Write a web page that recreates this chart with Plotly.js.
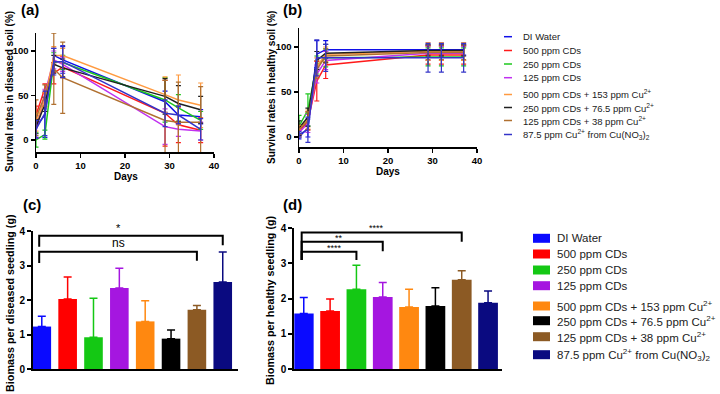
<!DOCTYPE html>
<html>
<head>
<meta charset="utf-8">
<script src="https://cdn.plot.ly/plotly-3.0.1.min.js"></script>
<style>
  html, body { margin: 0; padding: 0; background: #fff; }
  #chart { width: 720px; height: 394px; }
</style>
</head>
<body>
<div id="chart"></div>
<script>
// --- data ---
const treatments = [
    'DI Water',
    '500 ppm CDs',
    '250 ppm CDs',
    '125 ppm CDs',
    '500 ppm CDs + 153 ppm Cu<sup>2+</sup>',
    '250 ppm CDs + 76.5 ppm Cu<sup>2+</sup>',
    '125 ppm CDs + 38 ppm Cu<sup>2+</sup>',
    '87.5 ppm Cu<sup>2+</sup> from Cu(NO<sub>3</sub>)<sub>2</sub>'
];
const lineColors = ['#1010e8', '#ff1a1a', '#1ec81e', '#c030f0', '#ff9a40', '#202020', '#b07030', '#3434c8'];
const barColors = ['#0a0aff', '#ff0000', '#14c814', '#a516e0', '#ff8810', '#000000', '#8c5a24', '#0a0a80'];

const days = [0, 2, 4, 6, 29, 32, 37];

// (a) survival in diseased soil (%), mean and SD per treatment
const diseasedMean = [
    [15, 28, 95, 90, 43, 28, 26],
    [28, 58, 75, 82, 30, 17, 11],
    [0, 6, 88, 87, 45, 36, 22],
    [10, 52, 90, 85, 15, 12, 10],
    [20, 45, 95, 95, 51, 45, 39],
    [15, 40, 85, 81, 49, 41, 34],
    [25, 50, 80, 70, 22, 20, 20],
    [12, 30, 88, 88, 30, 28, 12]
];
const diseasedSd = [
    [12, 25, 8, 15, 12, 10, 8],
    [10, 5, 12, 12, 37, 20, 14],
    [8, 5, 10, 8, 25, 15, 10],
    [8, 5, 10, 8, 20, 8, 10],
    [10, 8, 10, 8, 20, 28, 25],
    [8, 8, 10, 10, 20, 20, 15],
    [20, 12, 40, 40, 45, 45, 40],
    [10, 25, 15, 18, 15, 10, 12]
];

// (b) survival in healthy soil (%)
const healthyMean = [
    [0, 10, 92, 97, 97, 97, 97],
    [5, 18, 62, 80, 91, 91, 91],
    [12, 30, 80, 88, 89, 89, 89],
    [5, 15, 70, 85, 93, 93, 93],
    [8, 20, 78, 92, 95, 95, 95],
    [10, 22, 85, 93, 96, 96, 96],
    [8, 18, 75, 90, 94, 94, 94],
    [3, 8, 88, 88, 88, 88, 88]
];
const healthySd = [
    [2, 10, 15, 10, 6, 6, 6],
    [5, 10, 22, 15, 10, 10, 10],
    [12, 18, 10, 10, 10, 10, 10],
    [5, 10, 10, 10, 8, 8, 8],
    [5, 10, 10, 8, 10, 10, 10],
    [8, 10, 10, 10, 6, 6, 6],
    [5, 10, 10, 8, 8, 8, 8],
    [3, 14, 20, 15, 16, 16, 16]
];

// (c) biomass per diseased seedling (g)
const biomassDiseased = [1.23, 2.03, 0.92, 2.35, 1.38, 0.88, 1.72, 2.52];
const biomassDiseasedSd = [0.30, 0.64, 1.13, 0.57, 0.60, 0.25, 0.12, 0.87];

// (d) biomass per healthy seedling (g)
const biomassHealthy = [1.58, 1.65, 2.27, 2.05, 1.76, 1.79, 2.54, 1.88];
const biomassHealthySd = [0.45, 0.34, 0.68, 0.41, 0.51, 0.52, 0.25, 0.34];

// significance brackets: [from, to, label]
const sigDiseased = [[0, 7, '*'], [0, 6, 'ns']];
const sigHealthy = [[0, 6, '****'], [0, 3, '**'], [0, 2, '****']];

const FONT = 'Arial, "Liberation Sans", sans-serif';
const W = 720, H = 394;
const px = x => x / W;
const py = y => 1 - y / H;

const traces = [];

// line charts (a) and (b)
treatments.forEach((name, i) => {
    traces.push({
        x: days, y: diseasedMean[i], xaxis: 'x', yaxis: 'y',
        type: 'scatter', mode: 'lines', name: name, showlegend: false,
        line: { color: lineColors[i], width: 1.5 },
        error_y: { type: 'data', array: diseasedSd[i], color: lineColors[i], thickness: 1.2, width: 2.5 }
    });
    traces.push({
        x: days, y: healthyMean[i], xaxis: 'x2', yaxis: 'y2',
        type: 'scatter', mode: 'lines', name: name, showlegend: false,
        line: { color: lineColors[i], width: 1.5 },
        error_y: { type: 'data', array: healthySd[i], color: lineColors[i], thickness: 1.2, width: 2.5 }
    });
});

// bar charts (c) and (d), one trace per treatment
treatments.forEach((name, i) => {
    traces.push({
        x: [i], y: [biomassDiseased[i]], xaxis: 'x3', yaxis: 'y3',
        type: 'bar', name: name, showlegend: false, width: 0.72,
        marker: { color: barColors[i] },
        error_y: { type: 'data', symmetric: false, array: [biomassDiseasedSd[i]], arrayminus: [0],
                   color: barColors[i], thickness: 1.5, width: 4 }
    });
    traces.push({
        x: [i], y: [biomassHealthy[i]], xaxis: 'x4', yaxis: 'y4',
        type: 'bar', name: name, showlegend: false, width: 0.75,
        marker: { color: barColors[i] },
        error_y: { type: 'data', symmetric: false, array: [biomassHealthySd[i]], arrayminus: [0],
                   color: barColors[i], thickness: 1.5, width: 4 }
    });
});

const axisBase = {
    showline: true, linecolor: '#000', linewidth: 1.5,
    ticks: 'outside', ticklen: 4, tickwidth: 1.5, tickcolor: '#000',
    showgrid: false, zeroline: false, fixedrange: true,
    tickfont: { family: FONT, size: 9.5, color: '#000', weight: 'bold' }
};
const barX = { ...axisBase, linewidth: 2, ticks: '', showticklabels: false };
const barY = { ...axisBase, linewidth: 2, tickwidth: 2, range: [0, 4], dtick: 1,
               tickfont: { family: FONT, size: 10, color: '#000', weight: 'bold' } };

const annotations = [];
const shapes = [];

function label(text, x, y, size, bold, angle, anchor) {
    annotations.push({
        text: text, xref: 'paper', yref: 'paper', x: px(x), y: py(y),
        xanchor: anchor || 'center', yanchor: 'middle', showarrow: false, textangle: angle || 0,
        font: { family: FONT, size: size, color: '#000', weight: bold ? 'bold' : 'normal' }
    });
}

// panel letters and axis titles
label('(a)', 30, 10, 15, true);
label('(b)', 292, 10, 15, true);
label('(c)', 32, 204, 15, true);
label('(d)', 292, 204, 15, true);
label('Survival rates in diseased soil (%)', 9, 92, 10, true, -90);
label('Survival rates in healthy soil (%)', 271, 88, 10, true, -90);
label('Days', 125.5, 176, 10, true);
label('Days', 388, 171, 10, true);
label('Biomass per diseased seedling (g)', 10, 303, 10.8, true, -90);
label('Biomass per healthy seedling (g)', 270, 300, 10.8, true, -90);

// legends drawn by hand so the rows keep the tight spacing of the original
const lineRows = [36.7, 50.5, 64, 77.7, 94.5, 107.5, 120.5, 134.5];
const barRows = [238.3, 254, 270, 285.7, 306, 320.7, 336.7, 354.7];
treatments.forEach((name, i) => {
    shapes.push({ type: 'line', xref: 'paper', yref: 'paper',
        x0: px(504), x1: px(512), y0: py(lineRows[i]), y1: py(lineRows[i]),
        line: { color: lineColors[i], width: 1.5 } });
    annotations.push({ text: name, xref: 'paper', yref: 'paper', x: px(521), y: py(lineRows[i]),
        xanchor: 'left', yanchor: 'middle', showarrow: false,
        font: { family: FONT, size: 9.5, color: '#222' } });
    shapes.push({ type: 'rect', xref: 'paper', yref: 'paper',
        x0: px(533), x1: px(550), y0: py(barRows[i] + 4.5), y1: py(barRows[i] - 4.5),
        fillcolor: barColors[i], line: { width: 0 } });
    annotations.push({ text: name, xref: 'paper', yref: 'paper', x: px(555), y: py(barRows[i]),
        xanchor: 'left', yanchor: 'middle', showarrow: false,
        font: { family: FONT, size: 11.5, color: '#222' } });
});

// significance brackets (lines on the bar axes, labels in page pixels)
function bracket(xa, ya, sig, x0, top, leftEnd, rightEnd, tx, ty, size) {
    shapes.push({ type: 'path', xref: xa, yref: ya,
        path: `M${x0},${leftEnd} L${x0},${top} L${sig[1]},${top} L${sig[1]},${rightEnd}`,
        line: { color: '#000', width: 2 } });
    annotations.push({ text: sig[2], xref: 'paper', yref: 'paper', x: px(tx), y: py(ty), showarrow: false,
        xanchor: 'center', yanchor: 'middle', font: { family: FONT, size: size, color: '#000' } });
}
bracket('x3', 'y3', sigDiseased[0], -0.1, 3.86, 3.54, 3.59, 118, 228, 11);
bracket('x3', 'y3', sigDiseased[1], -0.1, 3.40, 3.07, 3.14, 118, 243, 12);
bracket('x4', 'y4', sigHealthy[0], -0.08, 3.88, 3.10, 3.62, 376.7, 227.5, 9);
bracket('x4', 'y4', sigHealthy[1], -0.08, 3.62, 3.10, 3.35, 339.3, 237.5, 9);
bracket('x4', 'y4', sigHealthy[2], -0.08, 3.33, 3.10, 3.10, 334.3, 248, 9);

const layout = {
    width: W, height: H,
    margin: { l: 0, r: 0, t: 0, b: 0 },
    paper_bgcolor: '#fff', plot_bgcolor: 'rgba(0,0,0,0)',
    showlegend: false, barmode: 'overlay',
    font: { family: FONT, color: '#000' },
    xaxis: { ...axisBase, domain: [px(36), px(214)], range: [0, 40], tickvals: [0, 10, 20, 30, 40], anchor: 'y' },
    yaxis: { ...axisBase, domain: [py(152), py(33)], range: [-13.5, 120.2], tickvals: [0, 50, 100], anchor: 'x' },
    xaxis2: { ...axisBase, domain: [px(299), px(477)], range: [0, 40], tickvals: [0, 10, 20, 30, 40], anchor: 'y2' },
    yaxis2: { ...axisBase, domain: [py(147), py(28)], range: [-11.1, 121.1], tickvals: [0, 50, 100], anchor: 'x2' },
    xaxis3: { ...barX, domain: [px(33), px(238)], range: [-0.34, 7.59], anchor: 'y3' },
    yaxis3: { ...barY, domain: [py(369), py(231)], anchor: 'x3' },
    xaxis4: { ...barX, domain: [px(294.3), px(502)], range: [-0.36, 7.53], anchor: 'y4' },
    yaxis4: { ...barY, domain: [py(369), py(228.3)], anchor: 'x4' },
    annotations: annotations,
    shapes: shapes
};

Plotly.newPlot('chart', traces, layout, { displayModeBar: false, staticPlot: true });
</script>
</body>
</html>
